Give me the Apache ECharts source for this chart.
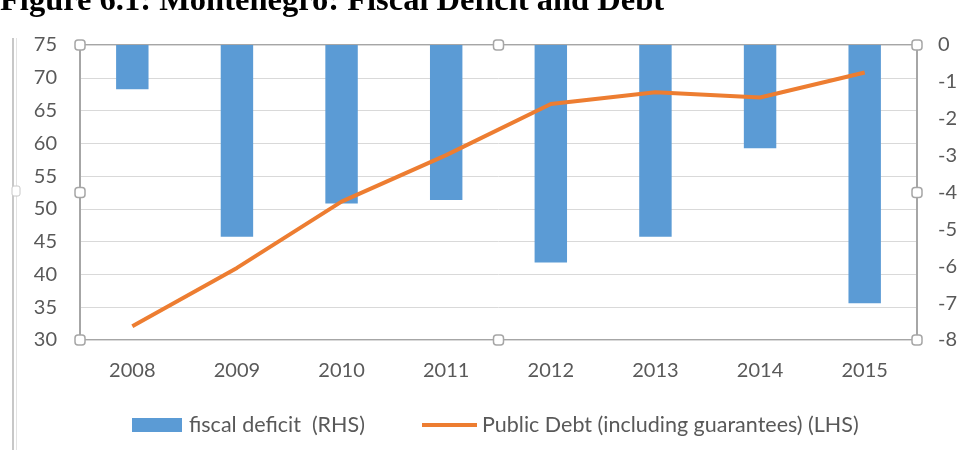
<!DOCTYPE html>
<html><head><meta charset="utf-8">
<script src="https://cdn.jsdelivr.net/npm/echarts@6/dist/echarts.min.js"></script>
<style>html,body{margin:0;padding:0;background:#fff}#c{width:964px;height:450px}</style>
</head><body><div id="c"></div>
<script>
const years = ['2008','2009','2010','2011','2012','2013','2014','2015'];
const fiscalDeficit = [-1.2, -5.2, -4.3, -4.2, -5.9, -5.2, -2.8, -7.0];
const publicDebt = [32.1, 41.0, 51.1, 58.2, 66.0, 67.8, 67.0, 70.8];
const leftTicks = {min: 30, max: 75, interval: 5};
const rightTicks = {min: -8, max: 0, interval: 1};

const G = {left: 80, right: 47, top: 45, bottom: 110};
const W = 964, H = 450;
const gx0 = G.left, gx1 = W - G.right, gy0 = G.top, gy1 = H - G.bottom;
const font = 'Lato';
const handle = (x, y) => ({type: 'rect', shape: {x: x - 5, y: y - 5, width: 10, height: 10, r: 3},
  style: {fill: '#fff', stroke: '#a6a6a6', lineWidth: 1.5}, z: 100});
const chart = echarts.init(document.getElementById('c'));
chart.setOption({
  animation: false,
  grid: {left: G.left, right: G.right, top: G.top, bottom: G.bottom, show: true, borderColor: '#a6a6a6', borderWidth: 2},
  xAxis: {type: 'category', data: years, axisTick: {show: false},
    axisLine: {show: false},
    axisLabel: {color: '#595959', fontSize: 20, fontFamily: font, margin: 21}},
  yAxis: [
    {type: 'value', min: leftTicks.min, max: leftTicks.max, interval: leftTicks.interval, position: 'left',
      axisLine: {show: false}, axisTick: {show: false},
      axisLabel: {color: '#595959', fontSize: 20, fontFamily: font, margin: 23},
      splitLine: {lineStyle: {color: '#d9d9d9', width: 1}}},
    {type: 'value', min: rightTicks.min, max: rightTicks.max, interval: rightTicks.interval, position: 'right',
      axisLine: {show: false}, axisTick: {show: false},
      axisLabel: {color: '#595959', fontSize: 20, fontFamily: font, margin: 21},
      splitLine: {show: false}}
  ],
  legend: [
    {left: 132, top: 414, padding: 0, itemWidth: 50, itemHeight: 14, itemGap: 0,
      textStyle: {color: '#595959', fontSize: 21.5, fontFamily: font, padding: [0, 0, 0, 2]},
      data: [{name: 'fiscal deficit  (RHS)', icon: 'rect'}]},
    {left: 422, top: 414, padding: 0, itemWidth: 55, itemHeight: 14, itemGap: 0,
      textStyle: {color: '#595959', fontSize: 21.5, fontFamily: font},
      data: [{name: 'Public Debt (including guarantees) (LHS)', icon: 'path://M0,5 L55,5 L55,9 L0,9 Z'}]}
  ],
  series: [
    {name: 'fiscal deficit  (RHS)', type: 'bar', yAxisIndex: 1, data: fiscalDeficit, barWidth: '31%',
      itemStyle: {color: '#5b9bd5'}},
    {name: 'Public Debt (including guarantees) (LHS)', type: 'line', yAxisIndex: 0, data: publicDebt,
      symbol: 'none', lineStyle: {color: '#ed7d31', width: 4}, itemStyle: {color: '#ed7d31'}, z: 5}
  ],
  graphic: [
    {type: 'text', left: 0, top: -15, style: {text: 'Figure 6.1: Montenegro: Fiscal Deficit and Debt',
      font: 'bold 32.5px "Liberation Serif"', fill: '#000'}},
    {type: 'rect', shape: {x: 12, y: 38, width: 2, height: 412}, style: {fill: '#c8c8c8'}},
    {type: 'rect', shape: {x: 16, y: 38, width: 1, height: 412}, style: {fill: '#e3e3e3'}},
    {type: 'rect', shape: {x: 12, y: 186, width: 8, height: 10, r: 2}, style: {fill: '#fff', stroke: '#c8c8c8'}},
    {type: 'line', shape: {x1: gx0, y1: gy0, x2: gx0, y2: gy1}, style: {stroke: '#a6a6a6', lineWidth: 2}, z: 50},
    {type: 'line', shape: {x1: gx1, y1: gy0, x2: gx1, y2: gy1}, style: {stroke: '#a6a6a6', lineWidth: 2}, z: 50},
    handle(gx0, gy0), handle((gx0 + gx1) / 2, gy0), handle(gx1, gy0),
    handle(gx0, (gy0 + gy1) / 2), handle(gx1, (gy0 + gy1) / 2),
    handle(gx0, gy1), handle((gx0 + gx1) / 2, gy1), handle(gx1, gy1)
  ]
});
</script></body></html>
